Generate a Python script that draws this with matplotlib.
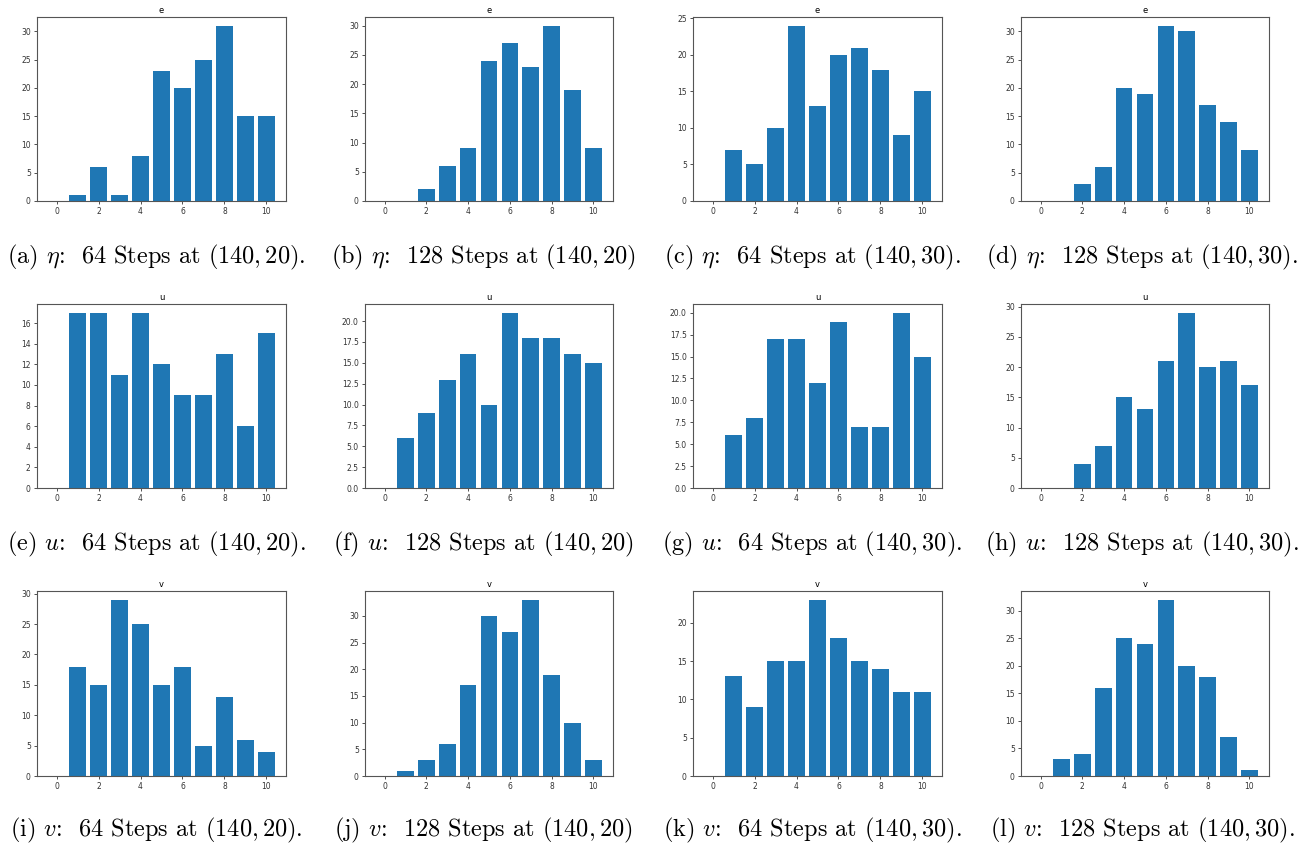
import matplotlib
matplotlib.use("Agg")
import matplotlib.pyplot as plt
from matplotlib.ticker import MultipleLocator

plt.rcParams['mathtext.fontset'] = 'cm'

bins = list(range(11))

eta_64_20 = [0, 1, 6, 1, 8, 23, 20, 25, 31, 15, 15]
eta_128_20 = [0, 0, 2, 6, 9, 24, 27, 23, 30, 19, 9]
eta_64_30 = [0, 7, 5, 10, 24, 13, 20, 21, 18, 9, 15]
eta_128_30 = [0, 0, 3, 6, 20, 19, 31, 30, 17, 14, 9]
u_64_20 = [0, 17, 17, 11, 17, 12, 9, 9, 13, 6, 15]
u_128_20 = [0, 6, 9, 13, 16, 10, 21, 18, 18, 16, 15]
u_64_30 = [0, 6, 8, 17, 17, 12, 19, 7, 7, 20, 15]
u_128_30 = [0, 0, 4, 7, 15, 13, 21, 29, 20, 21, 17]
v_64_20 = [0, 18, 15, 29, 25, 15, 18, 5, 13, 6, 4]
v_128_20 = [0, 1, 3, 6, 17, 30, 27, 33, 19, 10, 3]
v_64_30 = [0, 13, 9, 15, 15, 23, 18, 15, 14, 11, 11]
v_128_30 = [0, 3, 4, 16, 25, 24, 32, 20, 18, 7, 1]

series = [eta_64_20, eta_128_20, eta_64_30, eta_128_30,
          u_64_20, u_128_20, u_64_30, u_128_30,
          v_64_20, v_128_20, v_64_30, v_128_30]

titles = ['e'] * 4 + ['u'] * 4 + ['v'] * 4
ystep = [5, 5, 5, 5, 2, 2.5, 2.5, 5, 5, 5, 5, 5]

captions = [
    r'(a) $\eta$:  64 Steps at $(140, 20)$.',
    r'(b) $\eta$:  128 Steps at $(140, 20)$',
    r'(c) $\eta$:  64 Steps at $(140, 30)$.',
    r'(d) $\eta$:  128 Steps at $(140, 30)$.',
    r'(e) $u$:  64 Steps at $(140, 20)$.',
    r'(f) $u$:  128 Steps at $(140, 20)$',
    r'(g) $u$:  64 Steps at $(140, 30)$.',
    r'(h) $u$:  128 Steps at $(140, 30)$.',
    r'(i) $v$:  64 Steps at $(140, 20)$.',
    r'(j) $v$:  128 Steps at $(140, 20)$',
    r'(k) $v$:  64 Steps at $(140, 30)$.',
    r'(l) $v$:  128 Steps at $(140, 30)$.',
]

W, H = 1307, 846
fig = plt.figure(figsize=(W / 100, H / 100), dpi=100)

col_lr = [(37, 286), (365, 613), (693, 942), (1021, 1269)]
row_tb = [(17, 201), (304, 488), (591, 776)]
cap_y = [257, 544, 830]
cap_x = [156, 483, 812, 1142]

for idx in range(12):
    r, c = divmod(idx, 4)
    l, rr = col_lr[c]
    t, b = row_tb[r]
    ax = fig.add_axes([l / W, 1 - b / H, (rr - l) / W, (b - t) / H])
    ax.bar(bins, series[idx], color='#1f77b4')
    ax.set_title(titles[idx], fontsize=6, pad=3)
    ax.xaxis.set_major_locator(MultipleLocator(2))
    ax.yaxis.set_major_locator(MultipleLocator(ystep[idx]))
    ax.tick_params(labelsize=5.5, length=2.5, width=0.6, pad=2, colors='#333333')
    for s in ax.spines.values():
        s.set_color('#555555')
        s.set_linewidth(0.8)
    fig.text(cap_x[c] / W, 1 - cap_y[r] / H, captions[idx],
             ha='center', va='center', fontsize=17.5, family='cmr10')

fig.savefig('out.png', dpi=100)
